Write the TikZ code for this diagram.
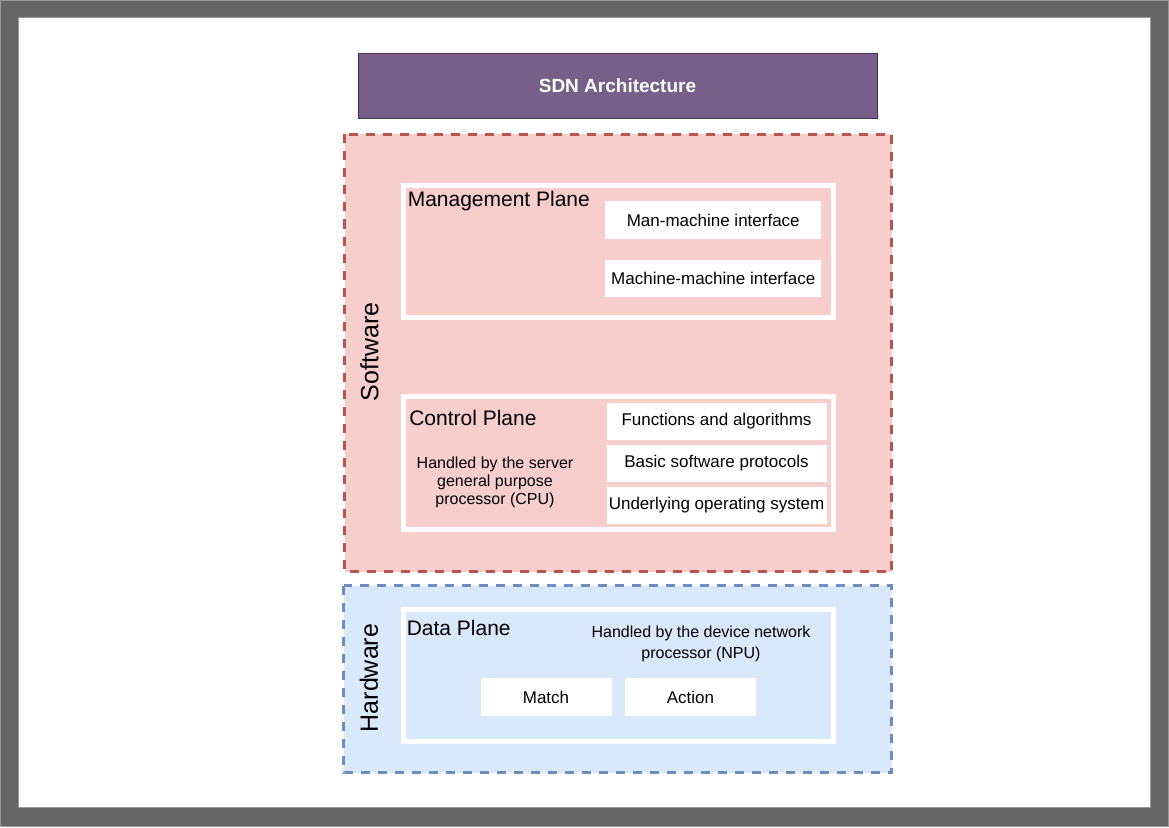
\documentclass[tikz,border=0pt]{standalone}
\usepackage{fontspec}
\setmainfont{Liberation Sans}
\definecolor{frame}{HTML}{666666}
\definecolor{sdnfill}{HTML}{76608A}
\definecolor{sdnline}{HTML}{432D57}
\definecolor{swfill}{HTML}{F8CECC}
\definecolor{swline}{HTML}{B85450}
\definecolor{hwfill}{HTML}{DAE8FC}
\definecolor{hwline}{HTML}{6C8EBF}
\begin{document}
\begin{tikzpicture}[x=0.75pt,y=-0.75pt,
  layer/.style={line width=2.25pt,dash pattern=on 6.75pt off 6pt},
  plane/.style={draw=white,line width=3.75pt},
  title/.style={anchor=base west,inner sep=0pt,font=\fontsize{15.75}{18}\selectfont},
  side/.style={rotate=90,inner sep=0pt,font=\fontsize{18.75}{22}\selectfont},
  note/.style={align=center,inner sep=0pt,font=\fontsize{12}{13.5}\selectfont},
  cell/.style={draw=#1,fill=white,line width=0.75pt,inner sep=0pt,font=\fontsize{12.75}{15}\selectfont}]
\fill[frame](0,0)rectangle(1169,827);
\fill[white](18,18)rectangle(1150,807);
\draw[color=black!40,line width=0.75pt](0.5,0.5)rectangle(1168.5,826.5);
\draw[color=black!40,line width=0.75pt](18,18)rectangle(1150,807);
\node[draw=sdnline,fill=sdnfill,line width=0.75pt,minimum width=389.25pt,minimum height=48.75pt,inner sep=0pt,text=white,font=\bfseries\fontsize{14.25}{17}\selectfont](sdn)at(617.5,86){SDN Architecture};
\draw[layer,draw=swline,fill=swfill](344.5,134.5)rectangle(891.5,571.5);
\draw[layer,draw=hwline,fill=hwfill](343.5,585.5)rectangle(891.5,772.5);
\foreach \y/\h in {185.5/317.5,396.5/529.5,609.5/741.5}
\draw[plane](403.5,\y)rectangle(833.5,\h);
\node[side](sw)at(369.5,352){Software};
\node[side](hw)at(369,678){Hardware};
\node[title](mp)at(407.5,206.7){Management Plane};
\node[title](cp)at(409,425){Control Plane};
\node[title](dp)at(406.5,635){Data Plane};
\foreach \n/\y/\t in {mmi/220/Man-machine interface,mci/278/Machine-machine interface}
\node[cell=swfill,minimum width=162.4pt,minimum height=28.5pt](\n)at(713.25,\y){\t};
\foreach \n/\y/\t in {fa/421.5/Functions and algorithms,bp/463/Basic software protocols,os/505/Underlying operating system}
\node[cell=swfill,minimum width=165.75pt,minimum height=28.5pt](\n)at(716.5,\y){\t};
\foreach \n/\x/\t in {match/546/Match,action/690.5/Action}
\node[cell=hwfill,minimum width=99pt,minimum height=28.9pt](\n)at(\x,697.25){\t};
\node[note](cpu)at(495,482){Handled by the server\\general purpose\\processor (CPU)};
\node[note,font=\fontsize{12}{16}\selectfont](npu)at(701,644){Handled by the device network\\processor (NPU)};
\end{tikzpicture}
\end{document}
